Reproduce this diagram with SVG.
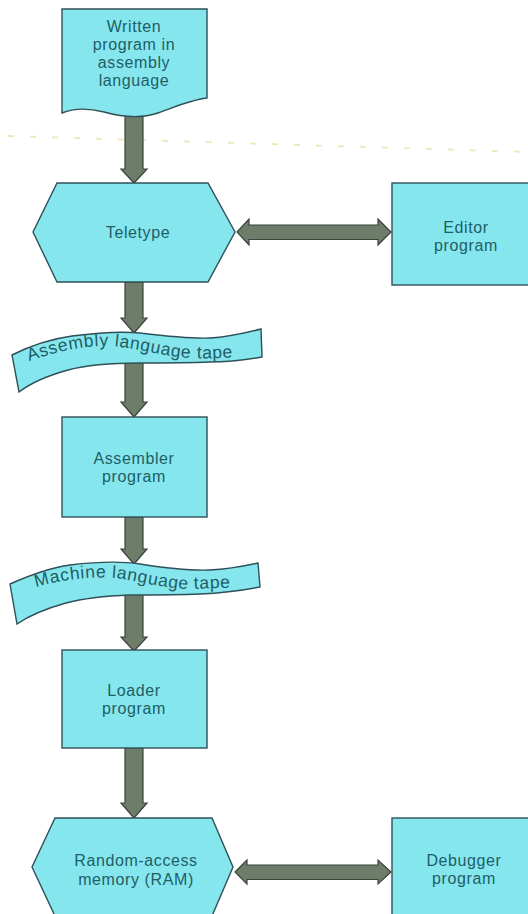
<svg xmlns="http://www.w3.org/2000/svg" width="528" height="914" viewBox="0 0 528 914">
  <style>
    .shape { fill: #86e6ee; stroke: #2e5058; stroke-width: 1.4; }
    .label { font-family: "Liberation Sans", Arial, sans-serif; font-size: 16px; letter-spacing: 0.6px; fill: #1e5e66; text-anchor: middle; }
    .tape-label { font-family: "Liberation Sans", Arial, sans-serif; font-size: 17.5px; letter-spacing: 0.7px; fill: #1e5e66; }
    .arrow { fill: #6e7c6a; stroke: #3b443a; stroke-width: 1.2; stroke-linejoin: miter; }
    .rule { fill: none; stroke: #ece2ae; stroke-width: 2; stroke-dasharray: 6 16; opacity: 0.8; }
  </style>
  <defs>
    <path id="asmTapeLine" d="M29,361 C55,352 85,345 110,346 C140,348 165,357 190,358 C210,359 228,358 250,356"/>
    <path id="machTapeLine" d="M36,587 C60,580 90,576 115,578 C140,581 168,590 195,589 C212,588 228,588 250,587"/>
  </defs>

  <rect width="528" height="914" fill="#ffffff"/>

  <!-- faint ruled line across the page -->
  <line class="rule" x1="8" y1="136" x2="528" y2="152"/>

  <!-- connectors -->
  <g id="connectors">
    <!-- document to teletype -->
    <path class="arrow" d="M125,108 H143 V169 H147 L134,183 L121,169 H125 Z"/>
    <!-- teletype to assembly tape -->
    <path class="arrow" d="M125,282 H143 V318 H147 L134,333 L121,318 H125 Z"/>
    <!-- assembly tape to assembler -->
    <path class="arrow" d="M125,360 H143 V402 H147 L134,417 L121,402 H125 Z"/>
    <!-- assembler to machine tape -->
    <path class="arrow" d="M125,517 H143 V549 H147 L134,564 L121,549 H125 Z"/>
    <!-- machine tape to loader -->
    <path class="arrow" d="M125,590 H143 V637 H147 L134,651 L121,637 H125 Z"/>
    <!-- loader to RAM -->
    <path class="arrow" d="M125,748 H143 V803 H147 L134,818 L121,803 H125 Z"/>
    <!-- teletype <-> editor -->
    <path class="arrow" d="M237,232 L249,219 V225 H378 V219 L391,232 L378,245 V239.5 H249 V245 Z"/>
    <!-- RAM <-> debugger -->
    <path class="arrow" d="M235,872 L247,860 V865 H378 V860 L391,872 L378,884 V879.5 H247 V884 Z"/>
  </g>

  <!-- written program (document symbol) -->
  <g id="written-program">
    <path class="shape" d="M62,9 H207 V98 C190,100 172,108 158,113 C140,119 122,117 104,112 C88,108 74,108 62,113 Z"/>
    <text class="label" x="134" y="32">Written</text>
    <text class="label" x="134" y="50">program in</text>
    <text class="label" x="134" y="68">assembly</text>
    <text class="label" x="134" y="86">language</text>
  </g>

  <!-- teletype (hexagon) -->
  <g id="teletype">
    <path class="shape" d="M57,183 H208 L235,232 L208,282 H57 L33,232 Z"/>
    <text class="label" x="138" y="238">Teletype</text>
  </g>

  <!-- editor program -->
  <g id="editor-program">
    <rect class="shape" x="392" y="183" width="140" height="102"/>
    <text class="label" x="466" y="233">Editor</text>
    <text class="label" x="466" y="251">program</text>
  </g>

  <!-- assembly language tape (ribbon) -->
  <g id="assembly-tape">
    <path class="shape" d="M12,355 C30,346 50,339 72,336 C95,333 120,331 140,333 C165,336 190,339 210,338 C228,337 245,333 261,329 L262,357 C245,360 230,362 210,362 C185,363 160,363 140,363 C115,363 90,364 68,370 C50,375 32,382 19,392 Z"/>
    <text class="tape-label"><textPath href="#asmTapeLine">Assembly language tape</textPath></text>
  </g>

  <!-- assembler program -->
  <g id="assembler-program">
    <rect class="shape" x="62" y="417" width="145" height="100"/>
    <text class="label" x="134" y="464">Assembler</text>
    <text class="label" x="134" y="482">program</text>
  </g>

  <!-- machine language tape (ribbon) -->
  <g id="machine-tape">
    <path class="shape" d="M10,584 C28,576 48,568 70,565 C95,562 120,561 140,564 C165,568 188,571 210,570 C228,569 244,566 258,563 L260,587 C245,590 225,593 200,594 C175,595 150,595 130,595 C105,596 85,598 66,603 C48,608 30,615 17,624 Z"/>
    <text class="tape-label"><textPath href="#machTapeLine">Machine language tape</textPath></text>
  </g>

  <!-- loader program -->
  <g id="loader-program">
    <rect class="shape" x="62" y="650" width="145" height="98"/>
    <text class="label" x="134" y="696">Loader</text>
    <text class="label" x="134" y="714">program</text>
  </g>

  <!-- random-access memory (hexagon, runs off the bottom edge) -->
  <g id="ram">
    <path class="shape" d="M55,818 H212 L233,867 L212,916 H55 L32,867 Z"/>
    <text class="label" x="136" y="866">Random-access</text>
    <text class="label" x="136" y="885">memory (RAM)</text>
  </g>

  <!-- debugger program -->
  <g id="debugger-program">
    <rect class="shape" x="392" y="818" width="140" height="100"/>
    <text class="label" x="464" y="866">Debugger</text>
    <text class="label" x="464" y="884">program</text>
  </g>
</svg>
